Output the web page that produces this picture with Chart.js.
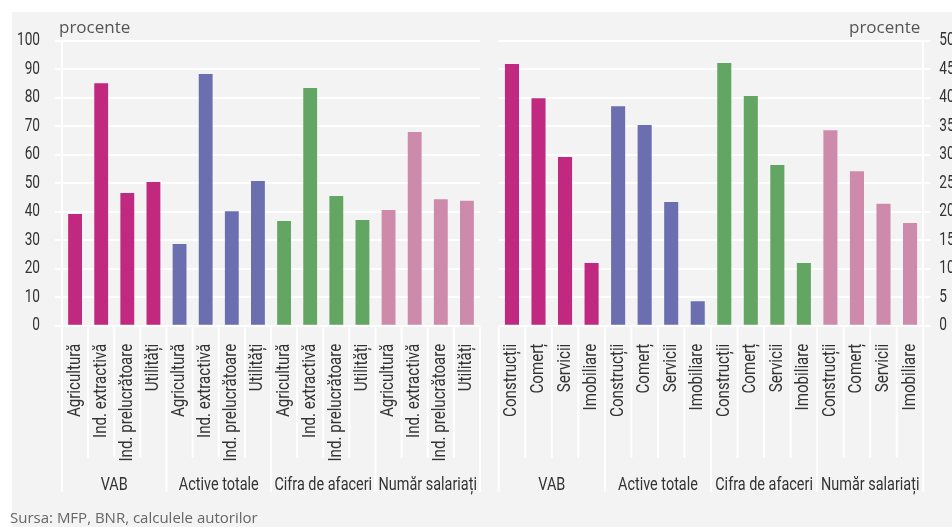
<!DOCTYPE html>
<html>
<head>
<meta charset="utf-8">
<script src="https://cdn.jsdelivr.net/npm/chart.js@4/dist/chart.umd.min.js"></script>
<style>
    body { margin: 0; width: 952px; height: 527px; overflow: hidden; position: relative; background: #fff; font-family: 'Open Sans', sans-serif; }
    #fundal { position: absolute; left: 12px; top: 12px; width: 940px; height: 515px; background: #f2f3f2; }
    .grafic { position: absolute; top: 12px; height: 515px; }
    #stanga { left: 12px; width: 478px; }
    #dreapta { left: 490px; width: 462px; }
    #sursa { position: absolute; left: 10px; top: 510px; font-size: 15px; line-height: 14px; color: #666; white-space: nowrap; }
</style>
</head>
<body>
<div id="fundal"></div>
<div class="grafic" id="stanga"><canvas id="graficStanga"></canvas></div>
<div class="grafic" id="dreapta"><canvas id="graficDreapta"></canvas></div>
<div id="sursa">Sursa: MFP, BNR, calculele autorilor</div>

<script>
const grupuri = ['VAB', 'Active totale', 'Cifra de afaceri', 'Număr salariați'];
const ramuriIndustrie = ['Agricultură', 'Ind. extractivă', 'Ind. prelucrătoare', 'Utilități'];
const ramuriServicii = ['Construcții', 'Comerț', 'Servicii', 'Imobiliare'];
const culori = ['#c0297f', '#6b6fb0', '#63a663', '#cd8aab'];

// panoul din stanga (procente, 0-100)
const vabIndustrie = [39.2, 85.1, 46.6, 50.4];
const activeIndustrie = [28.7, 88.3, 40.2, 50.8];
const cifraIndustrie = [36.7, 83.4, 45.5, 37.1];
const salariatiIndustrie = [40.6, 68.0, 44.4, 43.8];

// panoul din dreapta (procente, 0-50)
const vabServicii = [45.9, 39.9, 29.6, 11.0];
const activeServicii = [38.5, 35.2, 21.7, 4.3];
const cifraServicii = [46.1, 40.3, 28.2, 11.0];
const salariatiServicii = [34.3, 27.1, 21.4, 18.0];

const tickuriStanga = [0, 10, 20, 30, 40, 50, 60, 70, 80, 90, 100];
const tickuriDreapta = [0, 5, 10, 15, 20, 25, 30, 35, 40, 45, 50];

const fontIngust = "Roboto, sans-serif";
const fontText = "'Open Sans', sans-serif";

function etichete(ramuri) {
    let rez = [];
    grupuri.forEach(function () { rez = rez.concat(ramuri); });
    return rez;
}

function culoriBare(ramuri) {
    let rez = [];
    culori.forEach(function (c) { ramuri.forEach(function () { rez.push(c); }); });
    return rez;
}

// text condensat: scalare in directia textului (fontul din original e condensat)
function scrieIngust(ctx, text, x, y, marime, ingustare, aliniere, rotit) {
    ctx.save();
    ctx.translate(x, y);
    if (rotit) ctx.rotate(-Math.PI / 2);
    ctx.scale(ingustare, 1);
    ctx.font = marime + 'px ' + fontIngust;
    ctx.fillStyle = '#333';
    ctx.textAlign = aliniere;
    ctx.textBaseline = 'middle';
    ctx.fillText(text, 0, 0);
    ctx.restore();
}

// etichetele axelor, liniile de separare si numele grupurilor
const etichetare = {
    id: 'etichetare',
    afterDraw(chart) {
        const ctx = chart.ctx;
        const x = chart.scales.x;
        const y = chart.scales.y;
        const jos = chart.chartArea.bottom;
        const n = chart.data.labels.length;
        const pas = (x.right - x.left) / n;

        ctx.save();
        ctx.strokeStyle = '#fff';
        ctx.lineWidth = 2;
        for (let i = 0; i <= n; i++) {
            const px = x.left + i * pas;
            ctx.beginPath();
            ctx.moveTo(px, jos + 1.5);
            ctx.lineTo(px, jos + (i % 4 === 0 ? 166 : 132));
            ctx.stroke();
        }
        ctx.restore();

        chart.data.labels.forEach(function (et, i) {
            scrieIngust(ctx, et, x.getPixelForValue(i), jos + 18, 18, 0.84, 'right', true);
        });
        grupuri.forEach(function (g, k) {
            scrieIngust(ctx, g, x.left + (k * 4 + 2) * pas, jos + 160, 19, 0.76, 'center', false);
        });

        const stanga = y.position === 'left';
        const xEt = stanga ? y.right - 22 : y.left + 16;
        y.ticks.forEach(function (t) {
            scrieIngust(ctx, String(t.value), xEt, y.getPixelForValue(t.value), 17.5, 0.78, stanga ? 'right' : 'left', false);
        });

        // unitatea de masura
        ctx.save();
        ctx.fillStyle = '#555';
        ctx.font = '17px ' + fontText;
        ctx.textAlign = stanga ? 'left' : 'right';
        ctx.textBaseline = 'alphabetic';
        ctx.fillText('procente', stanga ? y.right - 3 : y.left - 3, 21);
        ctx.restore();
    }
};

function configurare(ramuri, valori, tickuri, pozitie, latimeAxa, padding) {
    return {
        type: 'bar',
        data: {
            labels: etichete(ramuri),
            datasets: [{
                data: valori,
                backgroundColor: culoriBare(ramuri),
                borderWidth: 0,
                barPercentage: 0.53,
                categoryPercentage: 1
            }]
        },
        options: {
            responsive: true,
            maintainAspectRatio: false,
            animation: false,
            layout: { padding: padding },
            plugins: {
                legend: { display: false },
                tooltip: { enabled: false }
            },
            scales: {
                x: {
                    afterFit: function (s) { s.height = 515 - 313.7; },
                    grid: { display: false, drawTicks: false },
                    border: { display: false },
                    ticks: { display: false, autoSkip: false }
                },
                y: {
                    position: pozitie,
                    min: tickuri[0],
                    max: tickuri[tickuri.length - 1],
                    afterFit: function (s) { s.width = latimeAxa; },
                    grid: { color: '#fff', lineWidth: 2, tickLength: 7 },
                    border: { display: true, color: '#fff', width: 2 },
                    ticks: { display: false, stepSize: tickuri[1] - tickuri[0] }
                }
            }
        },
        plugins: [etichetare]
    };
}

new Chart(document.getElementById('graficStanga'), configurare(
    ramuriIndustrie,
    [].concat(vabIndustrie, activeIndustrie, cifraIndustrie, salariatiIndustrie),
    tickuriStanga, 'left', 50, { top: 28.7, right: 10, left: 0, bottom: 0 }
));

new Chart(document.getElementById('graficDreapta'), configurare(
    ramuriServicii,
    [].concat(vabServicii, activeServicii, cifraServicii, salariatiServicii),
    tickuriDreapta, 'right', 28.7, { top: 28.7, right: 0, left: 8.7, bottom: 0 }
));
</script>
</body>
</html>
